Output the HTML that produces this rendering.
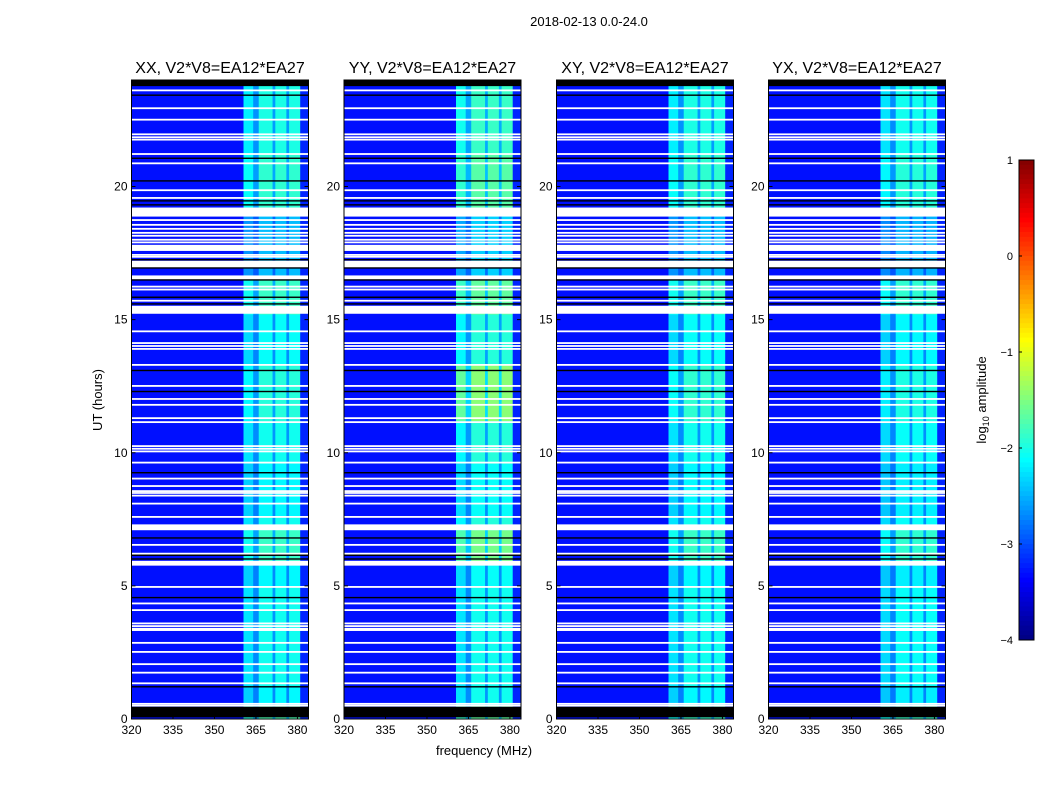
<!DOCTYPE html>
<html><head><meta charset="utf-8"><style>
body{margin:0;background:#fff;}
svg{display:block;font-family:"Liberation Sans",sans-serif;}
</style></head><body>
<svg id="fig" width="1050" height="800" xmlns="http://www.w3.org/2000/svg">
<text x="589" y="26" font-size="13" text-anchor="middle">2018-02-13 0.0-24.0</text>
<text transform="translate(102,400) rotate(-90)" font-size="13" text-anchor="middle">UT (hours)</text>
<text x="484" y="755" font-size="13" text-anchor="middle">frequency (MHz)</text>
<g id="panels"></g>
<g id="cbar"></g>
<text transform="translate(986,400) rotate(-90)" font-size="13" text-anchor="middle">log<tspan font-size="9" dy="3">10</tspan><tspan dy="-3"> amplitude</tspan></text>
</svg>
<script>
const panelTitles = ["XX, V2*V8=EA12*EA27","YY, V2*V8=EA12*EA27","XY, V2*V8=EA12*EA27","YX, V2*V8=EA12*EA27"];
const freqEdges = [320,360.5,364,366,371,372,376,377,381,384];
const baseLevel = [-3.3,-2.35,-2.75,-2.15,-2.7,-2.15,-2.7,-2.15,-3.2];
const signalWeight = [0,1,0.6,1,0.6,1,0.6,1,0];
const timeEdges = [0,0.5,1.2,5.0,5.8,7.1,7.6,9.6,11.2,13.3,15.2,16.5,19.2,21.2,23.8,24];
const gainXX = [0.4,0,0.1,0,0.3,0.1,0,0.1,0.2,0.05,0.3,-0.3,0.25,0.15,0.5];
const gainYY = [0.5,0.1,0.1,0.05,0.6,0.2,0.05,0.2,0.7,0.2,0.5,-0.2,0.45,0.3,0.8];
const gainXY = [0.3,0,0.1,0,0.3,0.1,0,0.1,0.25,0.05,0.3,-0.3,0.25,0.15,0.4];
const gainYX = [0.3,-0.05,0.05,-0.05,0.25,0.05,-0.05,0.05,0.15,0,0.25,-0.35,0.2,0.1,0.35];
const panelGains = [gainXX,gainYY,gainXY,gainYX];
const whiteLines = [23.61,22.94,22.51,21.96,21.85,21.76,21.22,20.87,19.86,19.57,18.74,18.56,18.41,18.26,18.15,18.0,17.9,17.43,17.36,16.24,16.13,15.71,14.56,14.12,14.01,13.90,13.30,12.51,12.02,11.80,11.30,11.15,10.25,10.15,10.05,9.63,9.03,8.75,8.56,8.49,8.39,8.09,7.59,6.54,6.21,4.96,4.34,4.09,3.59,3.49,3.39,3.34,2.86,2.52,2.06,1.74,1.34,0.57,0.50];
const whiteBlocks = [[18.87,19.21],[17.58,17.81],[16.95,17.21],[16.51,16.66],[15.22,15.52],[7.09,7.31],[5.76,5.94]];
const blackLines = [23.43,21.06,20.21,19.46,19.31,17.25,16.94,16.49,15.84,15.59,13.09,12.30,9.25,6.80,6.15,6.01,4.56,1.21];
const blackBlocks = [[23.77,24],[0.06,0.46]];
const yTicks = [0,5,10,15,20];
const xTicks = [320,335,350,365,380];
const cbTicks = [1,0,-1,-2,-3,-4];

const NS="http://www.w3.org/2000/svg";
const panelLeft=[131.5,344,556.5,768.5], PW=177, PT=80, PB=719;
const vmin=-4, vmax=1;
function jet(v){let t=(v-vmin)/(vmax-vmin);t=Math.max(0,Math.min(1,t));
 const c=x=>Math.round(255*Math.max(0,Math.min(1,x)));
 return `rgb(${c(1.5-Math.abs(4*t-3))},${c(1.5-Math.abs(4*t-2))},${c(1.5-Math.abs(4*t-1))})`;}
function mk(tag,attrs,parent){const e=document.createElementNS(NS,tag);for(const k in attrs)e.setAttribute(k,attrs[k]);parent.appendChild(e);return e;}
const root=document.getElementById('panels');
panelTitles.forEach((title,p)=>{
 const L=panelLeft[p];
 const xs=f=>L+(f-320)/(384-320)*PW;
 const ys=h=>PB-h/24*(PB-PT);
 const g=mk('g',{},root);
 
 
 const gains=panelGains[p];
 for(let r=0;r<timeEdges.length-1;r++){
  for(let c=0;c<freqEdges.length-1;c++){
   const v=baseLevel[c]+gains[r]*signalWeight[c];
   const y0=ys(timeEdges[r+1]),y1=ys(timeEdges[r]);
   const x0=xs(freqEdges[c]),x1=xs(freqEdges[c+1]);
   const cell=mk('rect',{x:x0,y:y0,width:x1-x0+0.3,height:y1-y0+0.3,fill:jet(v)},g);
   
   
  }
 }
 whiteBlocks.forEach(b=>{const e=mk('rect',{x:L,y:ys(b[1]),width:PW,height:ys(b[0])-ys(b[1]),fill:'#fff'},g);
  
  });
 whiteLines.forEach(h=>{const e=mk('rect',{x:L,y:ys(h)-0.9,width:PW,height:1.8,fill:'#fff'},g);
  
  });
 blackLines.forEach(h=>{const e=mk('rect',{x:L,y:ys(h)-0.7,width:PW,height:1.4,fill:'#000'},g);
  
  });
 blackBlocks.forEach(b=>{const e=mk('rect',{x:L,y:ys(b[1]),width:PW,height:ys(b[0])-ys(b[1]),fill:'#000'},g);
  
  });
 const fr=mk('rect',{x:L,y:PT,width:PW,height:PB-PT,fill:'none',stroke:'#000','stroke-width':1},g);
 
 
 const t=mk('text',{x:L+PW/2,y:73,'font-size':16,'text-anchor':'middle'},g);t.textContent=title;
 
 
 yTicks.forEach(v=>{const y=ys(v);
  mk('line',{x1:L,x2:L+4,y1:y,y2:y,stroke:'#000'},g);mk('line',{x1:L+PW-4,x2:L+PW,y1:y,y2:y,stroke:'#000'},g);
  const tl=mk('text',{x:L-4,y:y+4,'font-size':12,'text-anchor':'end'},g);tl.textContent=v;
  
  });
 xTicks.forEach(v=>{const x=xs(v);
  mk('line',{x1:x,x2:x,y1:PB,y2:PB-4,stroke:'#000'},g);mk('line',{x1:x,x2:x,y1:PT,y2:PT+4,stroke:'#000'},g);
  const tl=mk('text',{x:x,y:PB+15,'font-size':12,'text-anchor':'middle'},g);tl.textContent=v;
  
  });
});
const cb=document.getElementById('cbar');
const CBX=1019,CBW=15,CBT=160,CBB=640;
const N=100;
for(let i=0;i<N;i++){const v=vmax-(vmax-vmin)*(i+0.5)/N;
 mk('rect',{x:CBX,y:CBT+(CBB-CBT)*i/N,width:CBW,height:(CBB-CBT)/N+0.5,fill:jet(v)},cb);}
mk('rect',{x:CBX,y:CBT,width:CBW,height:CBB-CBT,fill:'none',stroke:'#000'},cb);
cbTicks.forEach(v=>{const y=CBT+(vmax-v)/(vmax-vmin)*(CBB-CBT);
 mk('line',{x1:CBX,x2:CBX+3,y1:y,y2:y,stroke:'#000'},cb);
 const tl=mk('text',{x:CBX-6,y:y+4,'font-size':11,'text-anchor':'end'},cb);tl.textContent=v<0?'\u2212'+(-v):v;
 
 });
</script>
</body></html>
